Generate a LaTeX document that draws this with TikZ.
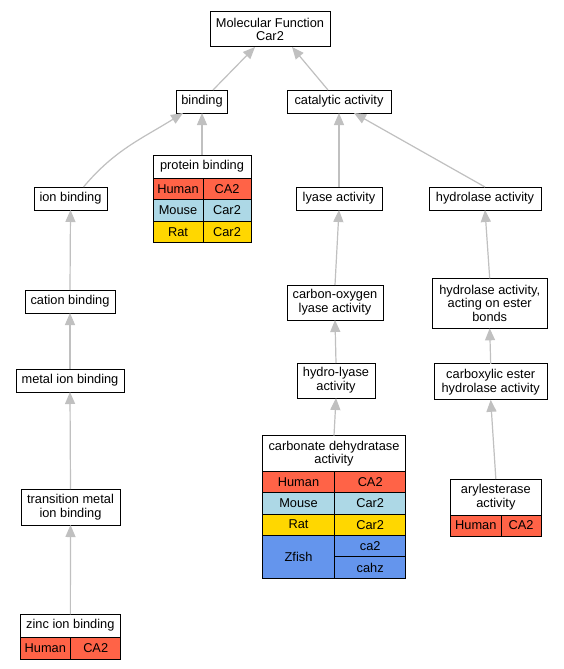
\documentclass[tikz,border=0pt]{standalone}
\usepackage{fontspec}
\setmainfont{Liberation Sans}
\usetikzlibrary{arrows.meta,positioning}
\definecolor{human}{HTML}{FF6347}
\definecolor{mouse}{HTML}{ADD8E6}
\definecolor{rat}{HTML}{FFD700}
\definecolor{zfish}{HTML}{6495ED}
\definecolor{isagray}{HTML}{C0C0C0}
\newcommand{\gofont}{\fontsize{12.8}{13.8}\selectfont}
\tikzset{term/.style={draw,line width=1pt,fill=white,inner sep=0pt,outer sep=0pt,align=center,font=\gofont},
         cell/.style={draw,line width=1pt,inner sep=0pt,outer sep=0pt,font=\gofont},
         isa/.style={color=isagray,line width=1.2pt,-{Triangle[length=12pt,width=10pt]}}}

\begin{document}
\begin{tikzpicture}[x=1pt,y=-1pt]
    \useasboundingbox[fill=white] (0,0) rectangle (563,669);
    % plain terms
    \node[term,minimum width=120pt,minimum height=35pt] (mf) at (270,29.5) {Molecular Function\\Car2};
    \node[term,minimum width=51pt,minimum height=23pt] (binding) at (202,101.5) {binding};
    \node[term,minimum width=104pt,minimum height=23pt] (catalytic) at (339,101.5) {catalytic activity};
    \node[term,minimum width=73pt,minimum height=23pt] (ion) at (70.5,198.5) {ion binding};
    \node[term,minimum width=86pt,minimum height=23pt] (lyase) at (339,198.5) {lyase activity};
    \node[term,minimum width=112pt,minimum height=23pt] (hydrolase) at (485,198.5) {hydrolase activity};
    \node[term,minimum width=90pt,minimum height=23pt] (cation) at (70,301.5) {cation binding};
    \node[term,minimum width=96pt,minimum height=35pt] (carbonoxygen) at (335,302.5) {carbon-oxygen\\lyase activity};
    \node[term,minimum width=115pt,minimum height=50pt] (ester) at (489.7,303.3) {hydrolase activity,\\acting on ester\\bonds};
    \node[term,minimum width=108pt,minimum height=23pt] (metal) at (70,380.5) {metal ion binding};
    \node[term,minimum width=78pt,minimum height=35pt] (hydrolyase) at (336,380.5) {hydro-lyase\\activity};
    \node[term,minimum width=113pt,minimum height=36pt] (carboxylic) at (490.7,381.8) {carboxylic ester\\hydrolase activity};
    \node[term,minimum width=99pt,minimum height=36pt] (transition) at (70.5,507) {transition metal\\ion binding};

    % annotated terms
    \node[term,anchor=north west,minimum width=98pt,minimum height=23pt] (protein) at (153,155) {protein binding};
    \node[cell,fill=human,minimum width=50pt,minimum height=21.5pt,below right=0pt of protein.south west] (proteinhuman) {Human};
    \node[cell,fill=human,minimum width=48pt,minimum height=21.5pt,right=0pt of proteinhuman] (proteinhumangene) {CA2};
    \node[cell,fill=mouse,minimum width=50pt,minimum height=21.5pt,below=0pt of proteinhuman] (proteinmouse) {Mouse};
    \node[cell,fill=mouse,minimum width=48pt,minimum height=21.5pt,right=0pt of proteinmouse] (proteinmousegene) {Car2};
    \node[cell,fill=rat,minimum width=50pt,minimum height=21.5pt,below=0pt of proteinmouse] (proteinrat) {Rat};
    \node[cell,fill=rat,minimum width=48pt,minimum height=21.5pt,right=0pt of proteinrat] (proteinratgene) {Car2};

    \node[term,anchor=north west,minimum width=143.4pt,minimum height=36pt] (carbonate) at (262.3,435.7) {carbonate dehydratase\\activity};
    \node[cell,fill=human,minimum width=72.4pt,minimum height=21pt,below right=0pt of carbonate.south west] (carbonatehuman) {Human};
    \node[cell,fill=human,minimum width=71pt,minimum height=21pt,right=0pt of carbonatehuman] (carbonatehumangene) {CA2};
    \node[cell,fill=mouse,minimum width=72.4pt,minimum height=21.3pt,below=0pt of carbonatehuman] (carbonatemouse) {Mouse};
    \node[cell,fill=mouse,minimum width=71pt,minimum height=21.3pt,right=0pt of carbonatemouse] (carbonatemousegene) {Car2};
    \node[cell,fill=rat,minimum width=72.4pt,minimum height=21.3pt,below=0pt of carbonatemouse] (carbonaterat) {Rat};
    \node[cell,fill=rat,minimum width=71pt,minimum height=21.3pt,right=0pt of carbonaterat] (carbonateratgene) {Car2};
    \node[cell,fill=zfish,minimum width=72.4pt,minimum height=43pt,below=0pt of carbonaterat] (carbonatezfish) {Zfish};
    \node[cell,fill=zfish,minimum width=71pt,minimum height=21.5pt,below=0pt of carbonateratgene] (carbonatezfishca) {ca2};
    \node[cell,fill=zfish,minimum width=71pt,minimum height=21.5pt,below=0pt of carbonatezfishca] (carbonatezfishcahz) {cahz};

    \node[term,anchor=north west,minimum width=90.3pt,minimum height=36pt] (aryl) at (450.7,479) {arylesterase\\activity};
    \node[cell,fill=human,minimum width=50.3pt,minimum height=21pt,below right=0pt of aryl.south west] (arylhuman) {Human};
    \node[cell,fill=human,minimum width=40pt,minimum height=21pt,right=0pt of arylhuman] (arylhumangene) {CA2};

    \node[term,anchor=north west,minimum width=100.7pt,minimum height=22.7pt] (zinc) at (20,614.3) {zinc ion binding};
    \node[cell,fill=human,minimum width=50.7pt,minimum height=22pt,below right=0pt of zinc.south west] (zinchuman) {Human};
    \node[cell,fill=human,minimum width=50pt,minimum height=22pt,right=0pt of zinchuman] (zinchumangene) {CA2};

    % is_a edges
    \draw[isa] ([xshift=11pt]binding.north) -- ([xshift=-15pt]mf.south);
    \draw[isa] ([xshift=-11pt]catalytic.north) -- ([xshift=22pt]mf.south);
    \draw[isa] ([xshift=13pt]ion.north) to[out=50,in=-148] ([xshift=-19pt]binding.south);
    \draw[isa] (protein.north) -- (binding.south);
    \draw[isa] (lyase.north) -- (catalytic.south);
    \draw[isa] (hydrolase.north) -- ([xshift=15pt]catalytic.south);
    \draw[isa] (cation.north) -- (ion.south);
    \draw[isa] (carbonoxygen.north) -- (lyase.south);
    \draw[isa] (ester.north) -- (hydrolase.south);
    \draw[isa] (metal.north) -- (cation.south);
    \draw[isa] (hydrolyase.north) -- (carbonoxygen.south);
    \draw[isa] (carboxylic.north) -- (ester.south);
    \draw[isa] (transition.north) -- (metal.south);
    \draw[isa] (carbonate.north) -- (hydrolyase.south);
    \draw[isa] (aryl.north) -- (carboxylic.south);
    \draw[isa] (zinc.north) -- (transition.south);
\end{tikzpicture}
\end{document}
